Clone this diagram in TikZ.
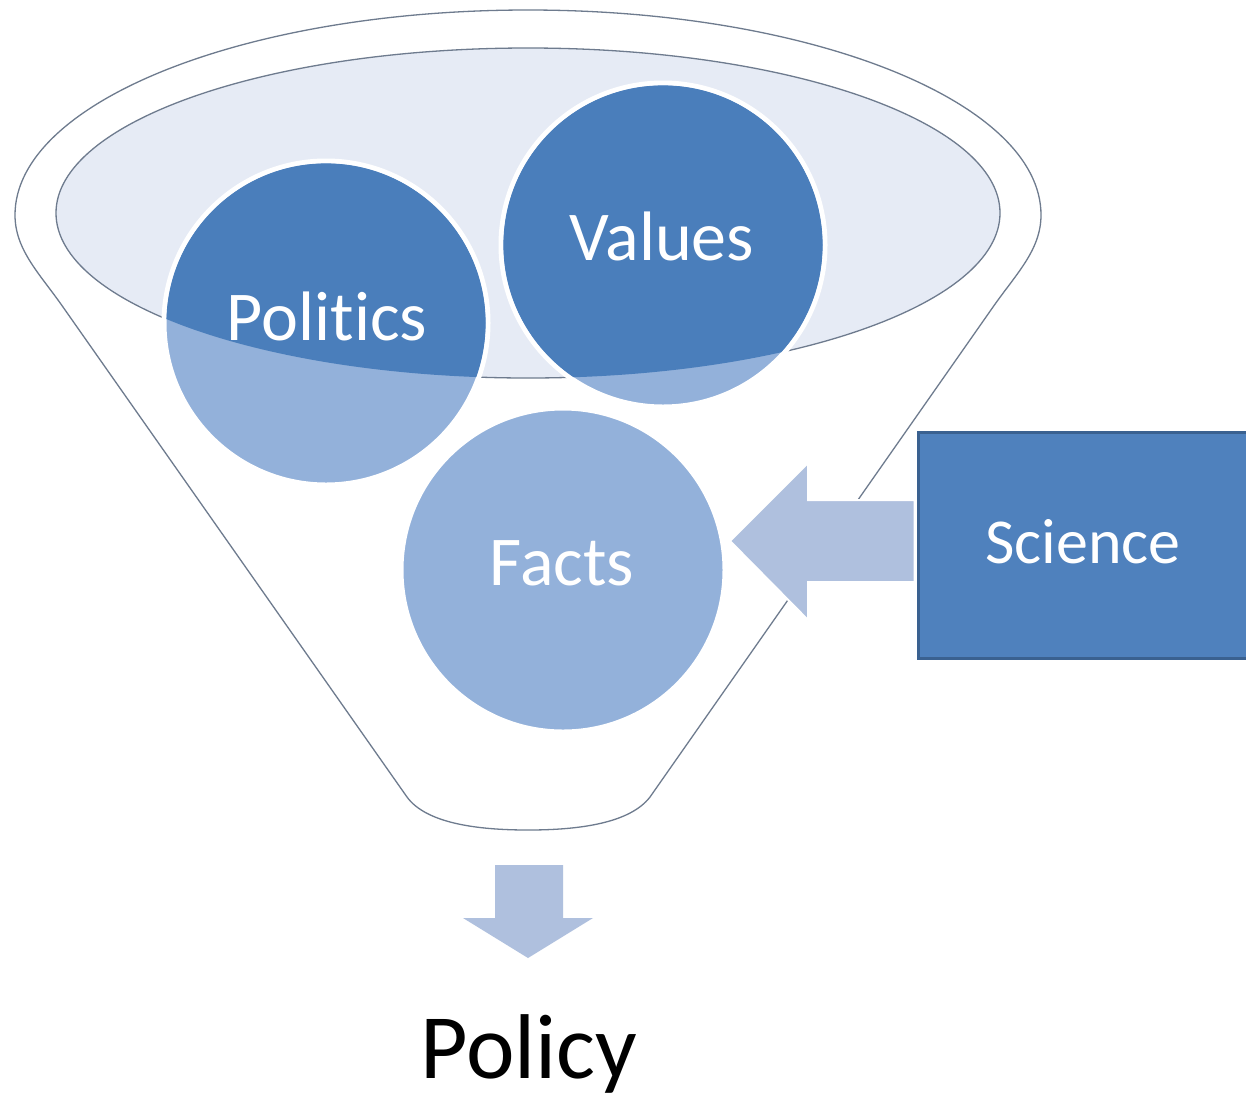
\documentclass[tikz,border=0pt]{standalone}
\usepackage{fontspec}
\setmainfont{Carlito}[Ligatures={NoCommon,NoContextual}]
\usetikzlibrary{calc}
\definecolor{darkblue}{HTML}{4A7EBB}
\definecolor{boxblue}{HTML}{4F81BD}
\definecolor{lightblue}{HTML}{93B1DA}
\definecolor{rimfill}{HTML}{E6EBF5}
\definecolor{rimline}{HTML}{6E7B8E}
\definecolor{arrowblue}{HTML}{AFC0DE}
\definecolor{boxline}{HTML}{3A6190}
\begin{document}
\begin{tikzpicture}[x=1pt,y=-1pt,
  outline/.style={draw=rimline, line width=1.3pt},
  ball/.style={circle, inner sep=0pt, minimum size=324pt, draw=white, line width=5pt, fill=lightblue},
  lbl/.style={text=white, inner sep=0pt, anchor=base, font=\fontsize{70}{84}\selectfont},
  blockarrow/.style={fill=arrowblue, draw=white, line width=2pt, line join=miter}]
\useasboundingbox (0,0) rectangle (1246,1104);
\fill[white] (0,0) rectangle (1246,1104);

% funnel body
\draw[outline, fill=white] (63,307) .. controls (40,274) and (15,250) .. (15,215)
   .. controls (15,102) and (245,10) .. (528,10)
   .. controls (811,10) and (1041,102) .. (1041,215)
   .. controls (1041,250) and (1016,274) .. (993,307)
   -- (650,797) .. controls (630,823) and (580,830) .. (528,830)
   .. controls (476,830) and (426,823) .. (407,797) -- cycle;

% funnel rim
\coordinate (rim) at (528,213);
\draw[outline, fill=rimfill] (rim) ellipse [x radius=472, y radius=165];

% circles
\node[ball] (politics) at (326,323) {};
\node[ball] (values) at (663,245) {};
\begin{scope}
  \clip (rim) ellipse [x radius=472, y radius=165];
  \fill[darkblue] (politics.center) circle[radius=159.6];
  \fill[darkblue] (values.center) circle[radius=159.6];
\end{scope}
\node[ball] (facts) at (563,570) {};

\node[lbl] (tpolitics) at (327,340) {Politics};
\node[lbl] (tvalues) at (662,260) {Values};
\node[lbl] (tfacts) at (562,585) {Facts};

% science box
\node[draw=boxline, fill=boxblue, line width=3pt, minimum width=336pt, minimum height=226pt, inner sep=0pt] (science) at (1086,545) {};
\node[lbl, font=\fontsize{64}{76}\selectfont] (tscience) at (1083,563) {Science};

% arrow from science to facts
\coordinate (sa1) at ($(science.west)+(-2,-45)$);
\coordinate (sa2) at ($(science.west)+(-2,37)$);
\coordinate (tip) at (730,541);
\draw[blockarrow] (sa1) -- (808,500) -- (808,463) -- (tip) -- (808,620) -- (808,582) -- (sa2) -- cycle;

% arrow to policy
\node[anchor=base, inner sep=0pt, font=\fontsize{92}{110}\selectfont, text=black] (policy) at (529,1078) {Policy};
\coordinate (dtip) at (528,958);
\fill[arrowblue] (495,865) -- (563,865) -- (563,918) -- (593,918) -- (dtip) -- (463,918) -- (495,918) -- cycle;
\end{tikzpicture}
\end{document}
